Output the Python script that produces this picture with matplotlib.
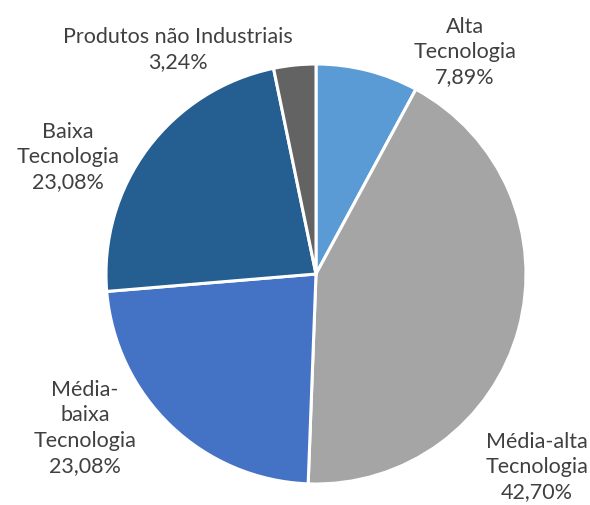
import matplotlib
matplotlib.use("Agg")
import matplotlib.pyplot as plt

# Composição por intensidade tecnológica
labels = ["Alta\nTecnologia", "Média-alta\nTecnologia", "Média-\nbaixa\nTecnologia",
          "Baixa\nTecnologia", "Produtos não Industriais"]
shares = [7.89, 42.70, 23.08, 23.08, 3.24]
colors = ["#5B9BD5", "#A5A5A5", "#4472C4", "#255E91", "#636363"]

# label centres in pixel coords (origin bottom-left)
label_pos = [(465, 453), (537, 38), (85, 77), (68, 348), (178, 455)]

plt.rcParams['font.family'] = ['Lato', 'DejaVu Sans']

fig = plt.figure(figsize=(5.9, 5.05), dpi=100)
ax = fig.add_axes([0, 0, 1, 1])
ax.set_xlim(0, 590)
ax.set_ylim(0, 505)
ax.set_aspect('equal')
ax.axis('off')

ax.pie(shares, colors=colors, startangle=90, counterclock=False,
       radius=210, center=(316, 231),
       wedgeprops=dict(edgecolor='white', linewidth=2.2))
ax.set_xlim(0, 590)
ax.set_ylim(0, 505)

for lab, v, (x, y) in zip(labels, shares, label_pos):
    txt = lab + "\n" + f"{v:.2f}".replace(".", ",") + "%"
    ax.text(x, y, txt, ha='center', va='center', fontsize=15.5,
            color='#404040', linespacing=1.32)

fig.savefig("out.png", dpi=100, facecolor='white')
